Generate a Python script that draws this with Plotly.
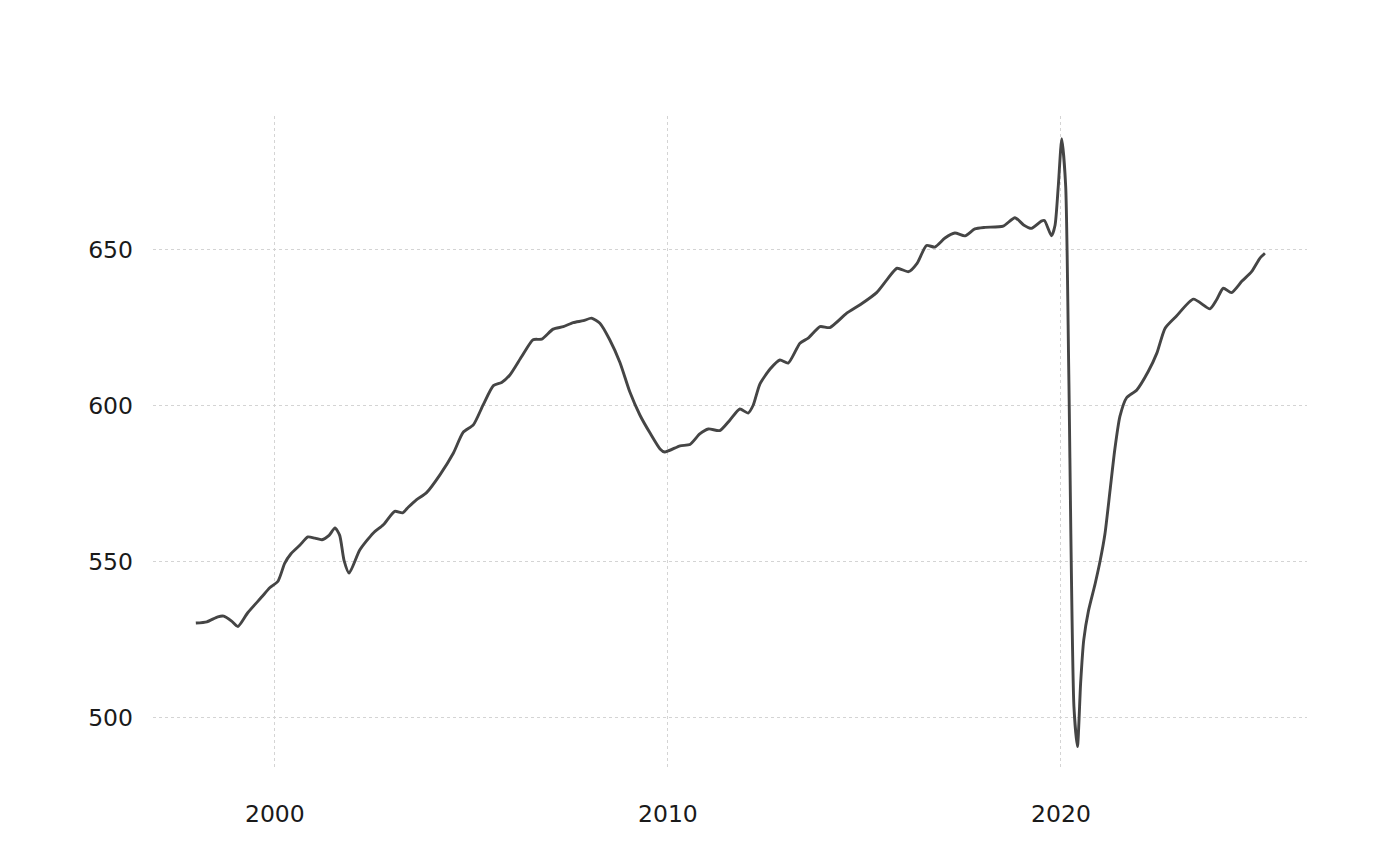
import plotly.graph_objects as go

# decimal year and value
years = [
    1997.99, 1998.27, 1998.55, 1998.70, 1998.90, 1999.06, 1999.31, 1999.67, 1999.87,
    2000.08, 2000.25, 2000.41, 2000.64, 2000.84, 2001.02, 2001.20, 2001.38, 2001.53,
    2001.65, 2001.76, 2001.89, 2002.16, 2002.50, 2002.76, 2003.05, 2003.25, 2003.40,
    2003.60, 2003.86, 2004.20, 2004.54, 2004.79, 2005.05, 2005.30, 2005.56, 2005.77,
    2005.98, 2006.28, 2006.57, 2006.79, 2007.08, 2007.34, 2007.59, 2007.85, 2008.06,
    2008.27, 2008.52, 2008.78, 2009.03, 2009.29, 2009.55, 2009.80, 2009.92, 2010.31,
    2010.56, 2010.81, 2011.03, 2011.32, 2011.58, 2011.83, 2012.04, 2012.17, 2012.34,
    2012.60, 2012.85, 2013.06, 2013.36, 2013.57, 2013.87, 2014.12, 2014.55, 2014.89,
    2015.31, 2015.57, 2015.83, 2016.12, 2016.34, 2016.58, 2016.79, 2017.05, 2017.30,
    2017.56, 2017.81, 2018.07, 2018.53, 2018.83, 2019.05, 2019.25, 2019.50, 2019.58,
    2019.76, 2019.85, 2019.93, 2020.02, 2020.12, 2020.20, 2020.33, 2020.42, 2020.50,
    2020.58, 2020.70, 2020.87, 2021.00, 2021.12, 2021.25, 2021.37, 2021.50, 2021.67,
    2021.93, 2022.22, 2022.44, 2022.65, 2022.94, 2023.37, 2023.79, 2023.96, 2024.13,
    2024.34, 2024.60, 2024.85, 2025.06, 2025.19,
]
values = [
    530.4, 530.8, 532.4, 532.6, 531.0, 529.3, 533.7, 538.8, 541.7,
    543.8, 549.5, 552.6, 555.4, 558.0, 557.6, 557.1, 558.5, 560.9,
    558.5, 550.5, 546.4, 553.8, 559.2, 561.9, 566.2, 565.7, 567.6,
    569.9, 572.2, 577.9, 584.8, 591.5, 593.9, 600.3, 606.5, 607.5,
    609.9, 615.8, 621.2, 621.4, 624.6, 625.4, 626.7, 627.3, 628.1,
    626.5, 621.2, 613.9, 604.5, 597.0, 591.2, 586.2, 585.2, 587.2,
    587.6, 591.0, 592.6, 592.1, 595.5, 599.0, 597.7, 600.2, 607.0,
    611.8, 614.7, 613.7, 620.1, 621.7, 625.4, 625.1, 629.7, 632.4,
    636.3, 640.4, 644.1, 643.0, 645.7, 651.4, 650.9, 653.8, 655.4,
    654.5, 656.7, 657.2, 657.6, 660.3, 658.0, 656.9, 659.2, 659.4,
    654.5, 657.9, 670.0, 685.6, 670.5, 610.0, 503.7, 490.8, 511.0,
    525.0, 534.3, 543.0, 550.5, 559.0, 573.0, 586.0, 596.6, 602.6,
    605.1, 611.0, 616.9, 624.9, 628.8, 634.2, 631.1, 634.0, 637.7,
    636.3, 639.9, 643.0, 647.3, 648.9,
]

x_ticks = [2000, 2010, 2020]
x_tick_labels = ["2000", "2010", "2020"]
y_ticks = [500, 550, 600, 650]
y_tick_labels = ["500", "550", "600", "650"]

fig = go.Figure()
fig.add_trace(go.Scatter(
    x=years, y=values, mode="lines",
    line=dict(color="#454545", width=2.9, shape="spline", smoothing=0.6),
    hoverinfo="x+y", showlegend=False,
))

grid = dict(showgrid=True, gridcolor="#d4d4d4", gridwidth=1, griddash="dot",
            zeroline=False, showline=False, ticks="")

fig.update_layout(
    width=1400, height=866,
    paper_bgcolor="white", plot_bgcolor="white",
    margin=dict(l=145, r=101, t=108, b=104),
    font=dict(family="DejaVu Sans", size=23.5, color="#1a1a1a"),
    xaxis=dict(range=[1996.90, 2026.26], tickvals=x_ticks, ticktext=x_tick_labels,
               ticklabelstandoff=27, **grid),
    yaxis=dict(range=[483.3, 692.9], tickvals=y_ticks, ticktext=y_tick_labels,
               ticklabelstandoff=19, **grid),
)

fig.write_html("out.html")
